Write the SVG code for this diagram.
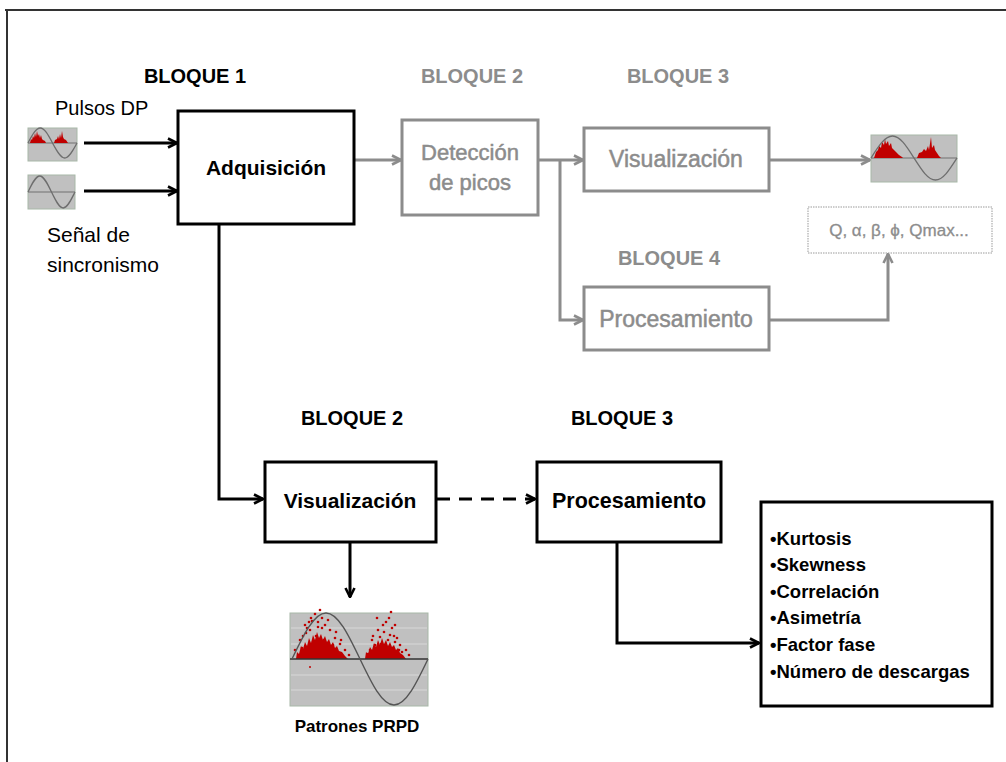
<svg xmlns="http://www.w3.org/2000/svg" width="1006" height="762" viewBox="0 0 1006 762">
<defs>
<marker id="ab" viewBox="0 0 12 12" refX="11" refY="6" markerWidth="12" markerHeight="12" markerUnits="userSpaceOnUse" orient="auto">
<polyline points="2,1.5 11,6 2,10.5" fill="none" stroke="#000" stroke-width="2.6"/>
</marker>
<marker id="ag" viewBox="0 0 12 12" refX="11" refY="6" markerWidth="12" markerHeight="12" markerUnits="userSpaceOnUse" orient="auto">
<polyline points="2,1.5 11,6 2,10.5" fill="none" stroke="#8c8c8c" stroke-width="2.6"/>
</marker>
</defs>
<style>
text{font-family:"Liberation Sans",Arial,sans-serif}
.t{font-size:20px;fill:#000}
.bk{font-weight:bold;fill:#000}
.gr{fill:#8c8c8c}
.gs{stroke:#8c8c8c;stroke-width:0.5}
.blk{font-size:20px;font-weight:bold}
.bb{fill:#fff;stroke:#000;stroke-width:3}
.gb{fill:#fff;stroke:#8c8c8c;stroke-width:3}
.cb{fill:none;stroke:#000;stroke-width:3}
.cg{fill:none;stroke:#8c8c8c;stroke-width:3}
.img{fill:#c0c0c0;stroke:#a8b8a8;stroke-width:1}
.sine{fill:none;stroke:#6e6e6e;stroke-width:1.3}
.zl{stroke:#707070;stroke-width:1}
.red{fill:#c00000}
.dots circle{fill:#c00000}
</style>
<rect width="1006" height="762" fill="#fff"/>
<path d="M5,10 H1006 M7,10 V762" fill="none" stroke="#333" stroke-width="2"/>

<g id="labels">
<text class="blk bk" x="195" y="83" text-anchor="middle">BLOQUE 1</text>
<text class="blk gr" x="472" y="83" text-anchor="middle">BLOQUE 2</text>
<text class="blk gr" x="678" y="83" text-anchor="middle">BLOQUE 3</text>
<text class="blk gr" x="669" y="265" text-anchor="middle">BLOQUE 4</text>
<text class="blk bk" x="352" y="425" text-anchor="middle">BLOQUE 2</text>
<text class="blk bk" x="622" y="425" text-anchor="middle">BLOQUE 3</text>
<text class="t" x="55" y="115">Pulsos DP</text>
<text class="t" x="47" y="242" style="font-size:21px">Señal de</text>
<text class="t" x="47" y="272" style="font-size:21px">sincronismo</text>
</g>

<g id="connectors">
<line class="cb" x1="84" y1="143" x2="177" y2="143" marker-end="url(#ab)"/>
<line class="cb" x1="84" y1="191" x2="177" y2="191" marker-end="url(#ab)"/>
<line class="cg" x1="354" y1="160" x2="401" y2="160" marker-end="url(#ag)"/>
<line class="cg" x1="538" y1="160" x2="583" y2="160" marker-end="url(#ag)"/>
<polyline class="cg" points="560,160 560,320 583,320" marker-end="url(#ag)"/>
<line class="cg" x1="769" y1="160" x2="870" y2="160" marker-end="url(#ag)"/>
<polyline class="cg" points="769,320 888,320 888,254" marker-end="url(#ag)"/>
<polyline class="cb" points="219,224 219,499 263,499" marker-end="url(#ab)"/>
<line class="cb" x1="437" y1="499" x2="535" y2="499" stroke-dasharray="13,9" marker-end="url(#ab)"/>
<line class="cb" x1="350" y1="542" x2="350" y2="597" marker-end="url(#ab)"/>
<polyline class="cb" points="617,542 617,643 759,643" marker-end="url(#ab)"/>
</g>

<g id="img-pulsos">
<rect class="img" x="28" y="128" width="49" height="33"/>
<line class="zl" x1="28" y1="143" x2="77" y2="143"/>
<path class="red" d="M30,143 L31,139 L32,140 L33,136 L34,138 L35,133 L36,137 L37,131 L38,136 L39,134 L40,138 L41,135 L42,139 L43,140 L45,141 L46,143 Z M54,143 L55,140 L57,139 L58,136 L59,139 L60,134 L61,138 L62,131 L63,137 L64,139 L66,140 L68,143 Z"/>
<path class="sine" d="M28,143 C32.1,135.3 35.9,128 40.25,128 S48.4,135.3 52.5,143 S60.6,158 64.75,158 S72.9,150.7 77,143"/>
</g>

<g id="img-sync">
<rect class="img" x="28" y="175" width="47" height="34"/>
<line class="zl" x1="28" y1="192" x2="75" y2="192"/>
<path class="sine" d="M28,192 C31.9,183.8 35.6,176 39.75,176 S47.6,183.8 51.5,192 S59.1,208 63.25,208 S71.1,199.8 75,192"/>
</g>

<g id="adquisicion">
<rect class="bb" x="178" y="111" width="176" height="113"/>
<text class="bk" x="266" y="175" text-anchor="middle" font-size="21">Adquisición</text>
</g>

<g id="deteccion">
<rect class="gb" x="402" y="120" width="136" height="95"/>
<text class="gr gs" x="470" y="160" text-anchor="middle" font-size="22">Detección</text>
<text class="gr gs" x="470" y="190" text-anchor="middle" font-size="22">de picos</text>
</g>

<g id="visualizacion-gris">
<rect class="gb" x="584" y="128" width="185" height="63"/>
<text class="gr gs" x="676" y="167" text-anchor="middle" font-size="23">Visualización</text>
</g>

<g id="procesamiento-gris">
<rect class="gb" x="584" y="287" width="185" height="63"/>
<text class="gr gs" x="676" y="327" text-anchor="middle" font-size="23">Procesamiento</text>
</g>

<g id="img-salida">
<rect class="img" x="871" y="135" width="86" height="47"/>
<line class="zl" x1="871" y1="158" x2="957" y2="158"/>
<path class="red" d="M874,158 L876,152 L878,150 L879,146 L881,148 L882,142 L884,145 L885,139 L886,144 L888,141 L889,146 L891,143 L892,148 L894,150 L896,152 L899,155 L902,157 L903,158 Z M917,158 L919,153 L922,152 L924,149 L926,151 L928,146 L929,150 L931,137 L932,148 L934,145 L935,150 L937,153 L939,156 L941,158 Z"/>
<path class="sine" d="M871,158 C878.2,146.7 884.8,136 892.5,136 S906.8,146.7 914,158 S927.8,180 935.5,180 S949.8,169.3 957,158"/>
</g>

<g id="parametros">
<rect x="808" y="207" width="184" height="46" fill="#fff" stroke="#9a9a9a" stroke-width="1" stroke-dasharray="1.5,1"/>
<text class="gr gs" x="899" y="236" text-anchor="middle" font-size="17" style="stroke-width:0.3">Q, α, β, ϕ, Qmax...</text>
</g>

<g id="visualizacion">
<rect class="bb" x="265" y="462" width="171" height="80"/>
<text class="bk" x="350" y="508" text-anchor="middle" font-size="21">Visualización</text>
</g>

<g id="procesamiento">
<rect class="bb" x="537" y="462" width="184" height="80"/>
<text class="bk" x="629" y="508" text-anchor="middle" font-size="21.5">Procesamiento</text>
</g>

<g id="prpd">
<rect class="img" x="290" y="613" width="138" height="93"/>
<path d="M291,628 H427 M291,644 H427 M291,675 H427 M291,690 H427" stroke="#d8d8d8" stroke-width="1"/>
<path class="red" d="M296,659 L297,652 L299,654 L301,646 L303,649 L305,642 L307,646 L309,638 L311,643 L313,635 L315,640 L317,632 L319,638 L321,634 L323,640 L325,636 L327,642 L329,639 L331,645 L333,642 L335,648 L337,646 L339,651 L342,652 L345,656 L348,659 Z M365,659 L366,652 L368,654 L370,647 L372,650 L374,643 L376,647 L378,640 L380,645 L382,638 L384,644 L386,640 L388,646 L390,642 L392,647 L394,645 L396,650 L398,648 L400,653 L403,655 L406,659 Z"/>
<g class="dots">
<circle cx="305" cy="625" r="1.3"/><circle cx="310" cy="630" r="1.3"/><circle cx="312" cy="621" r="1.3"/><circle cx="318" cy="627" r="1.3"/><circle cx="322" cy="618" r="1.3"/><circle cx="306" cy="633" r="1.3"/><circle cx="300" cy="640" r="1.3"/><circle cx="315" cy="614" r="1.3"/><circle cx="325" cy="625" r="1.3"/><circle cx="330" cy="630" r="1.3"/><circle cx="335" cy="638" r="1.3"/><circle cx="340" cy="644" r="1.3"/><circle cx="303" cy="636" r="1.3"/><circle cx="309" cy="622" r="1.3"/><circle cx="320" cy="610" r="1.3"/><circle cx="328" cy="620" r="1.3"/><circle cx="316" cy="636" r="1.3"/><circle cx="345" cy="650" r="1.3"/><circle cx="349" cy="655" r="1.3"/><circle cx="311" cy="618" r="1.3"/><circle cx="302" cy="648" r="1.3"/><circle cx="322" cy="628" r="1.3"/><circle cx="336" cy="632" r="1.3"/><circle cx="341" cy="640" r="1.3"/><circle cx="295" cy="650" r="1.3"/><circle cx="318" cy="622" r="1.3"/><circle cx="324" cy="640" r="1.3"/><circle cx="333" cy="645" r="1.3"/><circle cx="307" cy="628" r="1.3"/><circle cx="313" cy="642" r="1.3"/><circle cx="310" cy="667" r="1"/>
<circle cx="378" cy="630" r="1.3"/><circle cx="383" cy="625" r="1.3"/><circle cx="372" cy="640" r="1.3"/><circle cx="390" cy="635" r="1.3"/><circle cx="395" cy="642" r="1.3"/><circle cx="380" cy="637" r="1.3"/><circle cx="386" cy="622" r="1.3"/><circle cx="399" cy="650" r="1.3"/><circle cx="375" cy="645" r="1.3"/><circle cx="392" cy="628" r="1.3"/><circle cx="397" cy="638" r="1.3"/><circle cx="402" cy="652" r="1.3"/><circle cx="389" cy="618" r="1.3"/><circle cx="370" cy="650" r="1.3"/><circle cx="384" cy="632" r="1.3"/><circle cx="394" cy="636" r="1.3"/><circle cx="381" cy="644" r="1.3"/><circle cx="377" cy="618" r="1.3"/><circle cx="409" cy="655" r="1.3"/><circle cx="400" cy="645" r="1.3"/><circle cx="391" cy="612" r="1.3"/><circle cx="373" cy="636" r="1.3"/><circle cx="388" cy="640" r="1.3"/><circle cx="395" cy="625" r="1.3"/><circle cx="368" cy="654" r="1.3"/><circle cx="406" cy="650" r="1.3"/>
</g>
<line x1="290" y1="659" x2="428" y2="659" stroke="#333" stroke-width="1.6"/>
<path d="M292,659 C303.3,635.4 313.9,613 326,613 S348.7,635.4 360,659 S381.9,705 394,705 S416.7,682.6 428,659" fill="none" stroke="#555" stroke-width="1.4"/>
<text class="bk" x="357" y="732" text-anchor="middle" font-size="17">Patrones PRPD</text>
</g>

<g id="resultados">
<rect class="bb" x="761" y="502" width="231" height="204"/>
<g class="bk" font-size="18.5">
<text x="770" y="545">•Kurtosis</text>
<text x="770" y="571">•Skewness</text>
<text x="770" y="598">•Correlación</text>
<text x="770" y="624">•Asimetría</text>
<text x="770" y="651">•Factor fase</text>
<text x="770" y="678">•Número de descargas</text>
</g>
</g>
</svg>
